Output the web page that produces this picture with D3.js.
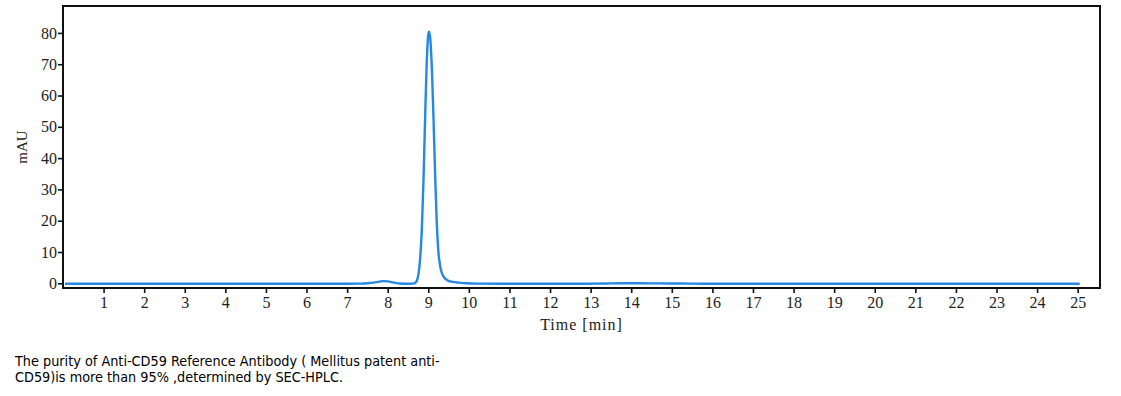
<!DOCTYPE html>
<html><head><meta charset="utf-8">
<script src="https://cdn.jsdelivr.net/npm/d3@7"></script>
<style>
html,body{margin:0;padding:0;background:#fff;}
svg{display:block;}
</style></head>
<body>
<svg id="c" width="1121" height="396"></svg>
<script>
// Chromatogram trace: time (min) and absorbance (mAU)
const times = [0.05, 1, 2, 3, 4, 5, 6, 7, 7.3, 7.5, 7.65, 7.8, 7.9, 8.0, 8.15, 8.3, 8.5, 8.62, 8.68, 8.72, 8.76, 8.8, 8.84, 8.88, 8.92, 8.96, 9.0, 9.02, 9.05, 9.09, 9.13, 9.17, 9.21, 9.25, 9.3, 9.36, 9.43, 9.5, 9.6, 9.75, 9.95, 10.3, 10.8, 12, 13, 13.4, 13.8, 14.2, 14.7, 15.2, 15.8, 17, 19, 21, 23, 25.05];
const values = [-0.15, -0.15, -0.15, -0.15, -0.15, -0.15, -0.15, -0.15, -0.1, 0.0, 0.2, 0.55, 0.7, 0.6, 0.25, -0.05, -0.15, -0.1, 0.2, 0.9, 3.0, 8.0, 17.0, 32.0, 52.0, 70.0, 79.5, 80.4, 78.0, 68.0, 52.0, 34.0, 19.0, 10.0, 5.0, 2.5, 1.3, 0.8, 0.45, 0.2, 0.0, -0.1, -0.15, -0.15, -0.12, -0.05, 0.0, 0.0, -0.03, -0.08, -0.12, -0.15, -0.15, -0.15, -0.15, -0.15];
const xTicks = d3.range(1, 26);
const yTicks = [0, 10, 20, 30, 40, 50, 60, 70, 80];
const xTitle = "Time [min]";
const yTitle = "mAU";
const captionLines = ["The purity of Anti-CD59 Reference Antibody ( Mellitus patent anti-", "CD59)is more than 95% ,determined by SEC-HPLC."];

const svg = d3.select("#c");
const L = 63, T = 6, R = 1100, B = 288;
const x = d3.scaleLinear().domain([0, 25.55]).range([L, R]);
const y = d3.scaleLinear().domain([-1.5, 88.6]).range([B, T]);

const serif = "'Liberation Serif', 'DejaVu Serif', serif";

// trace
const pts = times.map((t, i) => [t, values[i]]);
svg.append("path")
  .datum(pts)
  .attr("fill", "none")
  .attr("stroke", "#2488e4")
  .attr("stroke-width", 2.4)
  .attr("stroke-linejoin", "round")
  .attr("d", d3.line().x(d => x(d[0])).y(d => y(d[1])).curve(d3.curveMonotoneX));

// axes
const xAxis = svg.append("g").attr("transform", `translate(0,${B})`)
  .call(d3.axisBottom(x).tickValues(xTicks).tickSize(5).tickPadding(4).tickSizeOuter(0));
const yAxis = svg.append("g").attr("transform", `translate(${L},0)`)
  .call(d3.axisLeft(y).tickValues(yTicks).tickSize(5).tickPadding(1).tickSizeOuter(0));
[xAxis, yAxis].forEach(g => {
  g.select(".domain").remove();
  g.selectAll(".tick line").attr("stroke", "#111").attr("stroke-width", 1.6);
  g.selectAll(".tick text").attr("fill", "#222").style("font-family", serif).style("font-size", "16px");
});

// frame
svg.append("rect").attr("x", L).attr("y", T).attr("width", R - L).attr("height", B - T)
  .attr("fill", "none").attr("stroke", "#111").attr("stroke-width", 2);

// titles
svg.append("text").attr("x", (L + R) / 2).attr("y", 330).attr("text-anchor", "middle")
  .style("font-family", serif).style("font-size", "16px").style("letter-spacing", "1px")
  .attr("fill", "#222").text(xTitle);
svg.append("text").attr("transform", "translate(27,147) rotate(-90)").attr("text-anchor", "middle")
  .style("font-family", serif).style("font-size", "15px").attr("fill", "#222").text(yTitle);

// caption
svg.selectAll("text.cap").data(captionLines).enter().append("text")
  .attr("class", "cap").attr("x", 15).attr("y", (d, i) => 366 + i * 16)
  .style("font-family", "'DejaVu Sans Condensed', 'DejaVu Sans', sans-serif")
  .style("font-size", "14.3px").attr("fill", "#000").text(d => d);
</script>
</body></html>
